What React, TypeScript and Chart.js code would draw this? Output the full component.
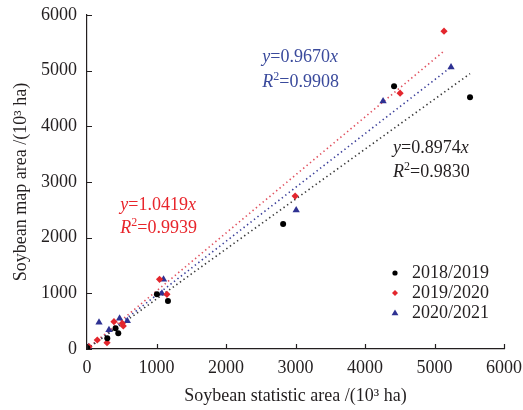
import React, { useEffect, useRef } from "react";
import { Chart, registerables } from "chart.js";

Chart.register(...registerables);

const SERIES_LABELS = ["2018/2019", "2019/2020", "2020/2021"];
const X_2018 = [5, 292, 411, 450, 1006, 1165, 2822, 4418, 5511];
const Y_2018 = [18, 192, 372, 282, 982, 862, 2244, 4722, 4524];
const X_2019 = [29, 148, 288, 388, 508, 522, 1044, 1150, 2995, 4505, 5137];
const Y_2019 = [41, 162, 113, 490, 461, 413, 1251, 982, 2747, 4596, 5709];
const X_2020 = [20, 173, 316, 469, 580, 1078, 1101, 3010, 4260, 5238];
const Y_2020 = [36, 479, 341, 551, 503, 1000, 1251, 2495, 4452, 5063];
const SLOPES = ["0.8974", "1.0419", "0.9670"];
const R2 = ["0.9830", "0.9939", "0.9908"];
// label anchors (data coords): left x, first-line y, second-line y
const LABEL_X = [4404, 479, 2522];
const LABEL_Y1 = [3609, 2585, 5242];
const LABEL_Y2 = [3178, 2172, 4794];
const AXIS_MAX = 6000;
const AXIS_STEP = 1000;

const COLORS = ["#000000", "#e3262d", "#2e3192"];
const LINE_COLORS = ["#3a3a3a", "#e0505e", "#3b3f9a"];
const TEXT_COLORS = ["#231f20", "#e8252b", "#3a4a9c"];
const POINT_STYLES = ["circle", "rectRot", "triangle"];
const POINT_RADII = [3, 3.6, 4.2];
const FONT = "Liberation Serif";
const INK = "#231f20";

const XS = [X_2018, X_2019, X_2020];
const YS = [Y_2018, Y_2019, Y_2020];

function drawRich(ctx: CanvasRenderingContext2D, x: number, y: number, parts: { t: string; i?: boolean; sup?: boolean }[], color: string) {
  let cx = x;
  ctx.save();
  ctx.fillStyle = color;
  ctx.textBaseline = "middle";
  ctx.textAlign = "left";
  for (const p of parts) {
    const size = p.sup ? 12 : 18;
    ctx.font = `${p.i ? "italic " : ""}${size}px "${FONT}"`;
    ctx.fillText(p.t, cx, p.sup ? y - 5 : y);
    cx += ctx.measureText(p.t).width;
  }
  ctx.restore();
}

const extrasPlugin = {
  id: "extras",
  afterDraw(chart: any) {
    const ctx: CanvasRenderingContext2D = chart.ctx;
    const xs = chart.scales.x;
    const ys = chart.scales.y;
    const area = chart.chartArea;
    // inward ticks
    ctx.save();
    ctx.strokeStyle = INK;
    ctx.lineWidth = 1.2;
    ctx.beginPath();
    for (let v = 0; v <= AXIS_MAX; v += AXIS_STEP) {
      const px = Math.round(xs.getPixelForValue(v)) + 0.5;
      ctx.moveTo(px, area.bottom);
      ctx.lineTo(px, area.bottom - 5);
      const py = Math.round(ys.getPixelForValue(v)) + 0.5;
      ctx.moveTo(area.left, py);
      ctx.lineTo(area.left + 5, py);
    }
    ctx.stroke();
    ctx.restore();

    // equation labels
    for (let k = 0; k < 3; k++) {
      const lx = xs.getPixelForValue(LABEL_X[k]);
      const y1 = ys.getPixelForValue(LABEL_Y1[k]);
      const y2 = ys.getPixelForValue(LABEL_Y2[k]);
      drawRich(ctx, lx, y1, [{ t: "y", i: true }, { t: "=" + SLOPES[k] }, { t: "x", i: true }], TEXT_COLORS[k]);
      drawRich(ctx, lx, y2, [{ t: "R", i: true }, { t: "2", sup: true }, { t: "=" + R2[k] }], TEXT_COLORS[k]);
    }

    // legend
    const legX = area.right - 109;
    const legY = area.bottom - 76;
    const legR = [2.6, 3, 3.6];
    for (let k = 0; k < 3; k++) {
      const yy = legY + k * 20;
      ctx.save();
      ctx.fillStyle = COLORS[k];
      ctx.beginPath();
      const r = legR[k];
      if (k === 0) {
        ctx.arc(legX, yy, r, 0, Math.PI * 2);
      } else if (k === 1) {
        ctx.moveTo(legX, yy - r);
        ctx.lineTo(legX + r, yy);
        ctx.lineTo(legX, yy + r);
        ctx.lineTo(legX - r, yy);
        ctx.closePath();
      } else {
        ctx.moveTo(legX, yy - r);
        ctx.lineTo(legX + r * 0.95, yy + r * 0.6);
        ctx.lineTo(legX - r * 0.95, yy + r * 0.6);
        ctx.closePath();
      }
      ctx.fill();
      ctx.restore();
      ctx.save();
      ctx.fillStyle = INK;
      ctx.font = `18px "${FONT}"`;
      ctx.textBaseline = "middle";
      ctx.textAlign = "left";
      ctx.fillText(SERIES_LABELS[k], legX + 17, yy);
      ctx.restore();
    }
  },
};

export default function App() {
  const ref = useRef<HTMLCanvasElement | null>(null);
  useEffect(() => {
    document.body.style.margin = "0";
    const canvas = ref.current;
    if (!canvas) return;
    const scatterSets = XS.map((xarr, k) => ({
      type: "scatter" as const,
      label: SERIES_LABELS[k],
      data: xarr.map((x, i) => ({ x, y: YS[k][i] })),
      pointStyle: POINT_STYLES[k],
      pointRadius: POINT_RADII[k],
      backgroundColor: COLORS[k],
      borderColor: COLORS[k],
      borderWidth: 0,
      order: 0,
    }));
    const trendSets = XS.map((xarr, k) => {
      const xmax = Math.max(...xarr);
      const s = parseFloat(SLOPES[k]);
      return {
        type: "line" as const,
        label: "trend " + SERIES_LABELS[k],
        data: [
          { x: 0, y: 0 },
          { x: xmax, y: s * xmax },
        ],
        borderColor: LINE_COLORS[k],
        borderWidth: 1.6,
        borderDash: [1.4, 3],
        pointRadius: 0,
        fill: false,
        order: 1,
      };
    });
    const font = { family: FONT, size: 18 };
    const chart = new Chart(canvas, {
      type: "scatter",
      data: { datasets: [...scatterSets, ...trendSets] as any },
      options: {
        animation: false,
        responsive: true,
        maintainAspectRatio: false,
        layout: { padding: { top: 15, right: 19, left: 0, bottom: 0 } },
        plugins: { legend: { display: false }, tooltip: { enabled: false } },
        scales: {
          x: {
            type: "linear",
            min: 0,
            max: AXIS_MAX,
            grid: { display: false, drawTicks: false },
            border: { display: true, color: INK, width: 1.2 },
            ticks: { stepSize: AXIS_STEP, font, color: INK, padding: 8, maxRotation: 0, callback: (v: any) => String(v) },
            title: { display: true, text: "Soybean statistic area /(10³ ha)", font, color: INK, padding: { top: 0, bottom: 3 } },
            afterFit: (s: any) => {
              s.height = 61;
              s.paddingLeft = 0;
              s.paddingRight = 0;
            },
          },
          y: {
            type: "linear",
            min: 0,
            max: AXIS_MAX,
            grid: { display: false, drawTicks: false },
            border: { display: true, color: INK, width: 1.2 },
            ticks: { stepSize: AXIS_STEP, font, color: INK, padding: 10, callback: (v: any) => String(v) },
            title: { display: true, text: "Soybean map area /(10³ ha)", font, color: INK, padding: { top: 10, bottom: 0 } },
            afterFit: (s: any) => {
              s.width = 87;
              s.paddingTop = 0;
              s.paddingBottom = 0;
            },
          },
        },
      },
      plugins: [extrasPlugin],
    });
    return () => chart.destroy();
  }, []);
  return (
    <div style={{ position: "relative", width: 523, height: 410, background: "#fff" }}>
      <canvas ref={ref} />
    </div>
  );
}
